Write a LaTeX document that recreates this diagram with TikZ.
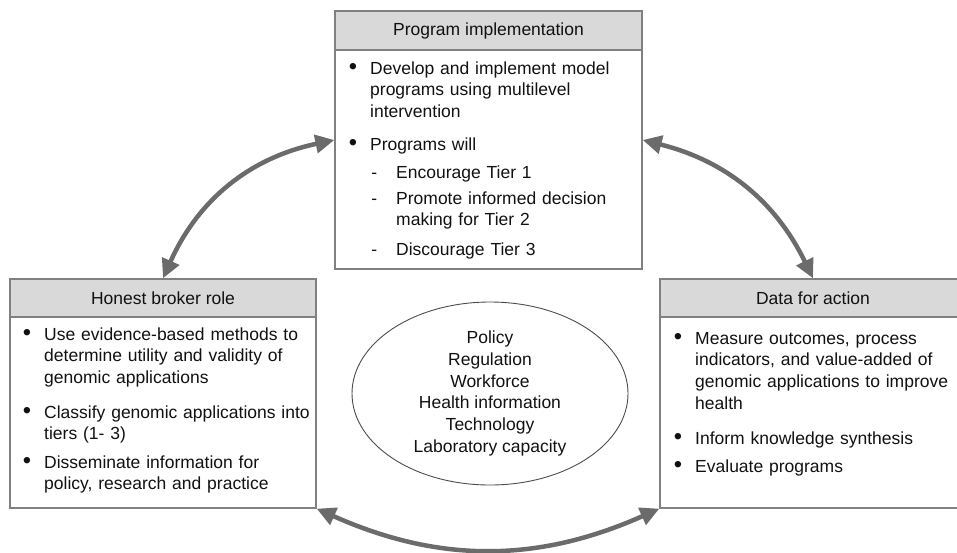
\documentclass[tikz,border=0pt]{standalone}
\usepackage{fontspec}
\setmainfont{Liberation Sans}
\usetikzlibrary{arrows.meta,shapes.geometric}
\definecolor{boxgray}{HTML}{808080}
\definecolor{headgray}{HTML}{D9D9D9}
\definecolor{arrowgray}{HTML}{6B6B6B}
\definecolor{inkgray}{HTML}{111111}
\newcommand{\diafont}{\fontsize{17.5}{21.8}\selectfont}
\newcommand{\bul}{\noindent\llap{\raisebox{-0.8pt}{\scalebox{1.35}{\textbullet}}\hspace{13pt}}}
\newcommand{\dsh}{\noindent\llap{-\hspace{19pt}}}

\tikzset{
    box/.style={draw=boxgray, line width=1.3pt, minimum width=306pt, inner sep=0pt},
    head/.style={box, fill=headgray, minimum height=38pt, font=\diafont, text=inkgray},
    entry/.style={anchor=base west, inner sep=0pt, text width=270pt, align=left, font=\diafont, text=inkgray},
    link/.style={draw=arrowgray, line width=4.5pt, {Triangle[width=18pt,length=19pt]}-{Triangle[width=18pt,length=19pt]}},
}

\begin{document}
\begin{tikzpicture}[x=1pt, y=-1pt]
    \useasboundingbox (0,0) rectangle (957,552);
    \clip (0,0) rectangle (957,552);

    % the three boxes with their headers
    \node[box, minimum width=307pt, minimum height=258pt] (impl) at (488.5,140) {};
    \node[box, minimum height=229pt] (broker) at (163,393.5) {};
    \node[box, minimum height=229pt] (data) at (813,393.5) {};
    \node[head, minimum width=307pt, minimum height=39pt, anchor=north] (implhead) at (impl.north) {Program implementation};
    \node[head, anchor=north] (brokerhead) at (broker.north) {Honest broker role};
    \node[head, anchor=north] (datahead) at (data.north) {Data for action};

    % program implementation
    \foreach \y/\txt [count=\i] in {74/{Develop and implement model\\programs using multilevel\\intervention}, 150/{Programs will}}
        \node[entry] (impl-\i) at (370,\y) {\bul\txt};
    \foreach \y/\txt [count=\i] in {178/{Encourage Tier 1}, 204/{Promote informed decision\\making for Tier 2}, 255/{Discourage Tier 3}}
        \node[entry] (tier-\i) at (396,\y) {\dsh\txt};

    % honest broker role
    \foreach \y/\txt [count=\i] in {340/{Use evidence-based methods to\\determine utility and validity of\\genomic applications}, 418/{Classify genomic applications into\\tiers (1- 3)}, 468/{Disseminate information for\\policy, research and practice}}
        \node[entry] (broker-\i) at (44,\y) {\bul\txt};

    % data for action
    \foreach \y/\txt [count=\i] in {344/{Measure outcomes, process\\indicators, and value-added of\\genomic applications to improve\\health}, 444/{Inform knowledge synthesis}, 472/{Evaluate programs}}
        \node[entry] (data-\i) at (695,\y) {\bul\txt};

    % centre
    \node[ellipse, draw=black!70, line width=0.9pt, minimum width=276pt, minimum height=183pt, inner sep=0pt, align=center, font=\diafont, text=inkgray] (factors) at (490,393.5)
        {Policy\\Regulation\\Workforce\\Health information\\Technology\\Laboratory capacity};

    % cycle arrows
    \draw[link] (broker.north) to[bend left=27] (impl.west);
    \draw[link] (impl.east) to[bend left=25] (data.north);
    \draw[link] (broker.south east) to[bend right=24] (data.south west);
\end{tikzpicture}
\end{document}
